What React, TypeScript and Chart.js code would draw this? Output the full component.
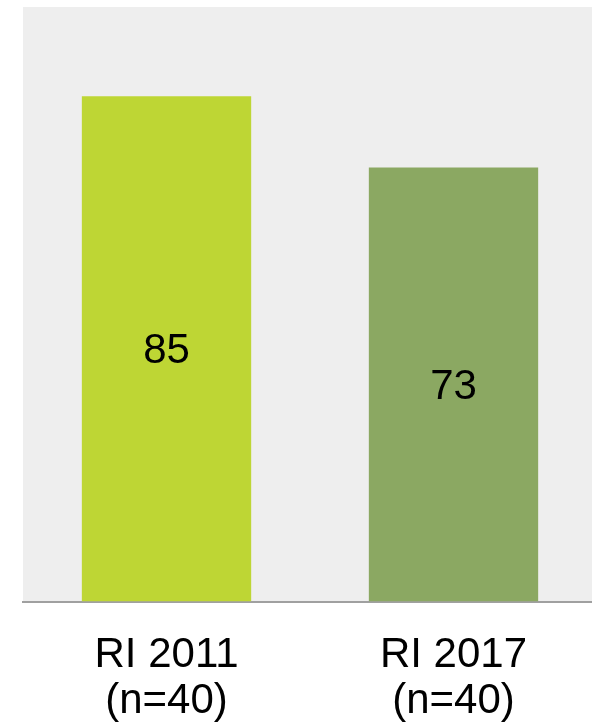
import React, { useEffect, useRef } from "react";
import { Chart, registerables } from "chart.js";

Chart.register(...registerables);

const categories: string[][] = [["RI 2011", "(n=40)"], ["RI 2017", "(n=40)"]];
const values: number[] = [85, 73];
const barColors: string[] = ["#BED634", "#8BA862"];

const bgPlugin = {
  id: "plotBg",
  beforeDraw(chart: any) {
    const { ctx, chartArea } = chart;
    ctx.save();
    ctx.fillStyle = "#EEEEEE";
    ctx.fillRect(chartArea.left, chartArea.top, chartArea.right - chartArea.left, chartArea.bottom - chartArea.top);
    ctx.restore();
  },
};

const valuePlugin = {
  id: "valueLabels",
  afterDatasetsDraw(chart: any) {
    const { ctx } = chart;
    const meta = chart.getDatasetMeta(0);
    ctx.save();
    ctx.font = "42px 'Liberation Sans', Arial, sans-serif";
    ctx.fillStyle = "#000000";
    ctx.textAlign = "center";
    ctx.textBaseline = "middle";
    meta.data.forEach((bar: any, i: number) => {
      const y = (bar.y + bar.base) / 2 + 3;
      ctx.fillText(String(values[i]), bar.x, y);
    });
    ctx.restore();
  },
};

export default function App() {
  const ref = useRef<HTMLCanvasElement | null>(null);
  useEffect(() => {
    if (!ref.current) return;
    const chart = new Chart(ref.current, {
      type: "bar",
      data: {
        labels: categories,
        datasets: [
          {
            data: values,
            backgroundColor: barColors,
            borderWidth: 0,
            categoryPercentage: 1,
            barPercentage: 0.59,
          },
        ],
      },
      options: {
        animation: false,
        responsive: false,
        maintainAspectRatio: false,
        layout: { padding: { left: 23, top: 7, right: 0, bottom: 0 } },
        plugins: { legend: { display: false }, tooltip: { enabled: false } },
        scales: {
          y: { display: false, min: 0, max: 100 },
          x: {
            grid: { display: false, drawTicks: false },
            border: { display: true, color: "#A0A0A0", width: 2 },
            ticks: {
              color: "#000000",
              padding: 31,
              font: { family: "'Liberation Sans', Arial, sans-serif", size: 42, lineHeight: 1.1 },
            },
          },
        },
      },
      plugins: [bgPlugin, valuePlugin],
    });
    return () => chart.destroy();
  }, []);
  return (
    <div style={{ position: "fixed", left: 0, top: 0, width: 592, height: 722, overflow: "hidden", background: "#fff" }}>
      <canvas ref={ref} width={597} height={756} style={{ display: "block", width: 597, height: 756 }} />
    </div>
  );
}
